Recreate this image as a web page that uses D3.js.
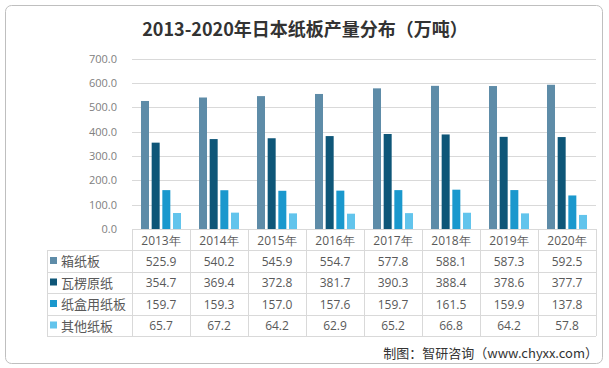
<!DOCTYPE html>
<html><head><meta charset="utf-8">
<script src="https://cdn.jsdelivr.net/npm/d3@7"></script>
<style>body{margin:0;background:#fff}svg{display:block}</style>
</head><body>
<script>
const years = ["2013年","2014年","2015年","2016年","2017年","2018年","2019年","2020年"];
const seriesNames = ["箱纸板","瓦楞原纸","纸盒用纸板","其他纸板"];
const s1 = [525.9,540.2,545.9,554.7,577.8,588.1,587.3,592.5];
const s2 = [354.7,369.4,372.8,381.7,390.3,388.4,378.6,377.7];
const s3 = [159.7,159.3,157.0,157.6,159.7,161.5,159.9,137.8];
const s4 = [65.7,67.2,64.2,62.9,65.2,66.8,64.2,57.8];
const yTicks = [0,100,200,300,400,500,600,700];
const colors = ["#5e8ca8","#0e5678","#1a98cd","#62c4ec"];
const allSeries = [s1,s2,s3,s4];

const W=609,H=368;
const svg=d3.select("body").append("svg").attr("width",W).attr("height",H);
const font="'Noto Sans CJK SC','Noto Sans',sans-serif";

// frame
svg.append("rect").attr("x",5.5).attr("y",5.5).attr("width",597).attr("height",358).attr("rx",6)
  .attr("fill","none").attr("stroke","#bfbfbf").attr("stroke-width",1);

const x0=132,x1=596,yTop=58.6,yBot=229;
const x=d3.scaleBand().domain(years).range([x0,x1]);
const y=d3.scaleLinear().domain([0,700]).range([yBot,yTop]);
const xs=d3.scaleBand().domain(seriesNames).range([9,49]).paddingInner(0.25);

// title
svg.append("text").attr("x",305).attr("y",36).attr("text-anchor","middle")
  .attr("font-family",font).attr("font-size",18).attr("font-weight","bold").attr("fill","#333")
  .text("2013-2020年日本纸板产量分布（万吨）");

// gridlines
const grid=svg.append("g").attr("transform","translate(0,0)");
grid.selectAll("line").data(yTicks.filter(d=>d>0)).join("line")
  .attr("x1",x0).attr("x2",x1).attr("y1",d=>Math.round(y(d))+0.5).attr("y2",d=>Math.round(y(d))+0.5)
  .attr("stroke","#d9d9d9");
// y axis labels
const yAxis=d3.axisLeft(y).tickValues(yTicks).tickFormat(d3.format(".1f")).tickSize(0).tickPadding(0);
const ya=svg.append("g").attr("transform","translate(117,0)").call(yAxis);
ya.select(".domain").remove();
ya.selectAll("text").attr("font-family","'Open Sans','Noto Sans',sans-serif").attr("font-size",11).attr("fill","#808080");

// bars
allSeries.forEach((arr,i)=>{
  svg.append("g").selectAll("rect").data(arr).join("rect")
    .attr("x",(d,j)=>x(years[j])+xs(seriesNames[i]))
    .attr("width",xs.bandwidth())
    .attr("y",d=>y(d)).attr("height",d=>yBot-y(d))
    .attr("fill",colors[i]);
});

// table
const rowY=[229,250,272,293,315,336];
const tl=47;
const tg=svg.append("g").attr("stroke","#d9d9d9").attr("shape-rendering","crispEdges");
rowY.forEach((ry,k)=>{
  tg.append("line").attr("x1",k===0?x0:tl).attr("x2",x1).attr("y1",ry+0.5).attr("y2",ry+0.5);
});
tg.append("line").attr("x1",tl+0.5).attr("x2",tl+0.5).attr("y1",250).attr("y2",336);
years.forEach(yr=>{
  tg.append("line").attr("x1",x(yr)+0.5).attr("x2",x(yr)+0.5).attr("y1",229).attr("y2",336);
});
tg.append("line").attr("x1",x1+0.5).attr("x2",x1+0.5).attr("y1",229).attr("y2",336);

const tf="'Open Sans','Noto Sans',sans-serif";
// header
svg.append("g").selectAll("text").data(years).join("text")
  .attr("x",d=>x(d)+x.bandwidth()/2).attr("y",244.5).attr("text-anchor","middle")
  .attr("font-family",tf).attr("font-size",12).attr("fill","#595959").text(d=>d);
// rows
allSeries.forEach((arr,i)=>{
  const cy=(rowY[i+1]+rowY[i+2])/2;
  svg.append("rect").attr("x",50).attr("y",cy-4).attr("width",7).attr("height",7).attr("fill",colors[i]);
  svg.append("text").attr("x",61).attr("y",cy+5).attr("font-family",font).attr("font-size",13)
    .attr("fill","#595959").text(seriesNames[i]);
  svg.append("g").selectAll("text").data(arr).join("text")
    .attr("x",(d,j)=>x(years[j])+x.bandwidth()/2).attr("y",cy+4.5).attr("text-anchor","middle")
    .attr("font-family",tf).attr("font-size",12).attr("fill","#595959").text(d=>d.toFixed(1));
});

// source
svg.append("text").attr("x",598).attr("y",358).attr("text-anchor","end")
  .attr("font-family",font).attr("font-size",13).attr("fill","#333")
  .text("制图：智研咨询（www.chyxx.com）");
</script>
</body></html>
